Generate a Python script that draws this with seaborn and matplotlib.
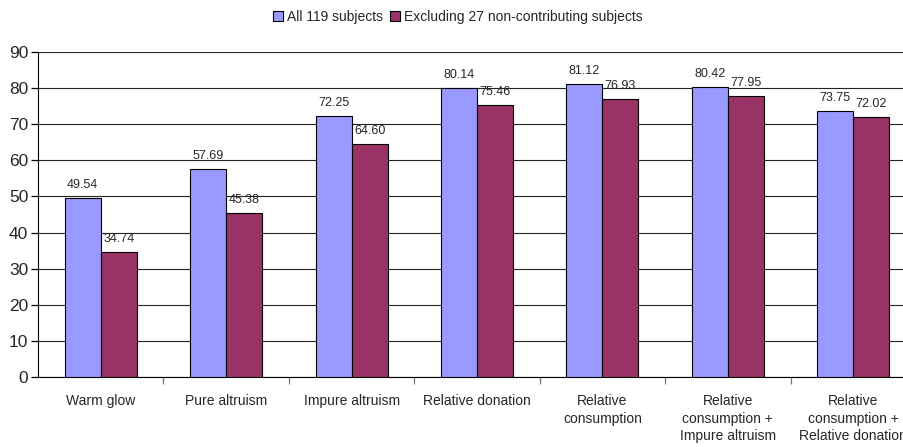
import numpy as np
import pandas as pd
import matplotlib.pyplot as plt
import seaborn as sns

categories = ["Warm glow", "Pure altruism", "Impure altruism", "Relative donation",
              "Relative\nconsumption", "Relative\nconsumption +\nImpure altruism",
              "Relative\nconsumption +\nRelative donation"]
all_subjects = [49.54, 57.69, 72.25, 80.14, 81.12, 80.42, 73.75]
excluding = [34.74, 45.38, 64.60, 75.46, 76.93, 77.95, 72.02]
series = ["All 119 subjects", "Excluding 27 non-contributing subjects"]

df = pd.DataFrame({
    "category": categories * 2,
    "value": all_subjects + excluding,
    "series": [series[0]] * 7 + [series[1]] * 7,
})

sns.set_style("white")
plt.rcParams["font.family"] = ["Liberation Sans", "DejaVu Sans"]

fig = plt.figure(figsize=(9.04, 4.47), dpi=100)
# the reference crops the last group at the right edge, so the axes run past the figure
ax = fig.add_axes([38 / 904, 1 - 377 / 447, 878 / 904, 325 / 447])

sns.barplot(data=df, x="category", y="value", hue="series", order=categories,
            hue_order=series, palette=["#9999FF", "#993366"], saturation=1, width=0.574,
            edgecolor="black", linewidth=0.8, ax=ax, zorder=3)

ax.set_ylim(0, 90)
ax.set_yticks(range(0, 91, 10))
ax.set_xlim(-0.5, 6.5)
ax.yaxis.grid(True, color="#222222", linewidth=0.8, zorder=0)
ax.set_axisbelow(True)
for s in ["top", "right"]:
    ax.spines[s].set_visible(False)
ax.spines["left"].set_color("black")
ax.spines["bottom"].set_color("black")
ax.tick_params(axis="y", left=True, length=5, width=0.9, color="black", labelsize=12.5, pad=2)
ax.tick_params(axis="x", bottom=False, labelsize=10, pad=9)
for lab in ax.get_xticklabels():
    lab.set_linespacing(1.3)
ax.set_xticks(np.arange(0.5, 6.5, 1), minor=True)
ax.tick_params(axis="x", which="minor", bottom=True, length=5, width=0.9, color="#777777")
ax.set_xlabel("")
ax.set_ylabel("")

for cont in ax.containers:
    ax.bar_label(cont, fmt="%.2f", padding=5, fontsize=9)

leg = ax.legend(loc="lower center", bbox_to_anchor=(0.478, 1.07), ncol=2, frameon=False,
                fontsize=10, handlelength=0.7, handleheight=0.7, handletextpad=0.3,
                columnspacing=0.5, borderaxespad=0)

fig.savefig("out.png", dpi=100)
